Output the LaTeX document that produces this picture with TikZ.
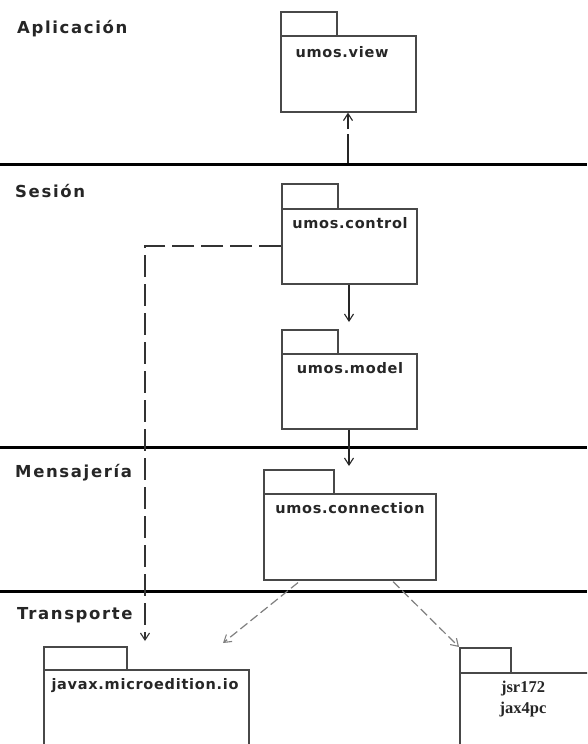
\documentclass[tikz,border=0pt]{standalone}
\usepackage{fontspec}
\usetikzlibrary{arrows.meta,calc}
\newfontfamily\pkgfont[LetterSpace=5]{DejaVu Sans Bold}
\newfontfamily\layerfont[LetterSpace=10]{DejaVu Sans Bold}
\newfontfamily\jfont{Liberation Serif Bold}
\definecolor{pkgc}{HTML}{484848}
\definecolor{depc}{HTML}{808080}
\tikzset{
  pkg/.style={draw=pkgc, line width=1.6pt, fill=white, anchor=north west, inner sep=0pt},
  pname/.style={font=\pkgfont\fontsize{14.5}{16}\selectfont, anchor=base, inner sep=0pt, text=black!85},
  jname/.style={font=\jfont\fontsize{16.5}{18}\selectfont, anchor=base, inner sep=0pt, text=black!85},
  layer/.style={font=\layerfont\fontsize{16.5}{18}\selectfont, anchor=base west, inner sep=0pt, text=black!85},
  sep/.style={line width=3pt, black},
  barb/.style={-{Straight Barb[length=7pt,width=9pt,line width=1.1pt]}},
  dep/.style={barb, line width=1.3pt, black!85},
  ldash/.style={dash pattern=on 22pt off 7pt},
  sdash/.style={barb, line width=1.2pt, depc, dash pattern=on 9pt off 4pt}
}
\begin{document}
\begin{tikzpicture}[x=1pt,y=-1pt]
  \useasboundingbox (0,0) rectangle (587,744);
  \clip (0,0) rectangle (587,744);
  \fill[white] (0,0) rectangle (587,744);

  % layer separators
  \coordinate (s1w) at (0,164);  \coordinate (s1e) at (587,164);
  \coordinate (s2w) at (0,447);  \coordinate (s2e) at (587,447);
  \coordinate (s3w) at (0,591);  \coordinate (s3e) at (587,591);
  \draw[sep] (s1w) -- (s1e);
  \draw[sep] (s2w) -- (s2e);
  \draw[sep] (s3w) -- (s3e);

  % layer names
  \node[layer] (lapp) at (17,33)  {Aplicación};
  \node[layer] (lses) at (15,197) {Sesión};
  \node[layer] (lmsg) at (15,477) {Mensajería};
  \node[layer] (ltra) at (17,619) {Transporte};

  % umos.view
  \node[pkg, minimum width=56pt, minimum height=24pt] (viewtab) at (280,11) {};
  \node[pkg, minimum width=135pt, minimum height=76pt] (view) at (280,35) {};
  \node[pname] (viewname) at ($(view.north west)+(62,22)$) {umos.view};

  % umos.control
  \node[pkg, minimum width=56pt, minimum height=25pt] (ctrltab) at (281,183) {};
  \node[pkg, minimum width=135pt, minimum height=75pt] (ctrl) at (281,208) {};
  \node[pname] (ctrlname) at ($(ctrl.north west)+(69,20)$) {umos.control};

  % umos.model
  \node[pkg, minimum width=56pt, minimum height=24pt] (modeltab) at (281,329) {};
  \node[pkg, minimum width=135pt, minimum height=75pt] (model) at (281,353) {};
  \node[pname] (modelname) at ($(model.north west)+(69,20)$) {umos.model};

  % umos.connection
  \node[pkg, minimum width=70pt, minimum height=24pt] (conntab) at (263,469) {};
  \node[pkg, minimum width=172pt, minimum height=86pt] (conn) at (263,493) {};
  \node[pname] (connname) at ($(conn.north west)+(87,20)$) {umos.connection};

  % javax.microedition.io
  \node[pkg, minimum width=83pt, minimum height=23pt] (iotab) at (43,646) {};
  \node[pkg, minimum width=205pt, minimum height=100pt] (io) at (43,669) {};
  \node[pname] (ioname) at ($(io.north west)+(102,20)$) {javax.microedition.io};

  % jsr172 / jax4pc
  \node[pkg, minimum width=51pt, minimum height=25pt] (jsrtab) at (459,647) {};
  \node[pkg, minimum width=160pt, minimum height=100pt] (jsr) at (459,672) {};
  \node[jname] (jsrname) at (523,692) {jsr172};
  \node[jname] (jaxname) at (523,713) {jax4pc};

  % dependencies
  \coordinate (viewfoot) at (348,163);
  \draw[dep, dash pattern=on 29pt off 5pt] (viewfoot) -- (view.south -| viewfoot);
  \draw[dep] (ctrl.south -| 349,0) -- (349,322);
  \draw[dep] (model.south -| 349,0) -- (349,466);
  \coordinate (ctrlbend) at (145,246);
  \draw[barb, line width=1.3pt, black!80, ldash] (ctrl.west |- ctrlbend) -- (ctrlbend) -- (145,641);
  \draw[sdash] ($(conn.south west)+(35,2)$) -- (223,643);
  \draw[sdash] ($(conn.south west)+(130,1)$) -- (jsrtab.north west);
\end{tikzpicture}
\end{document}
